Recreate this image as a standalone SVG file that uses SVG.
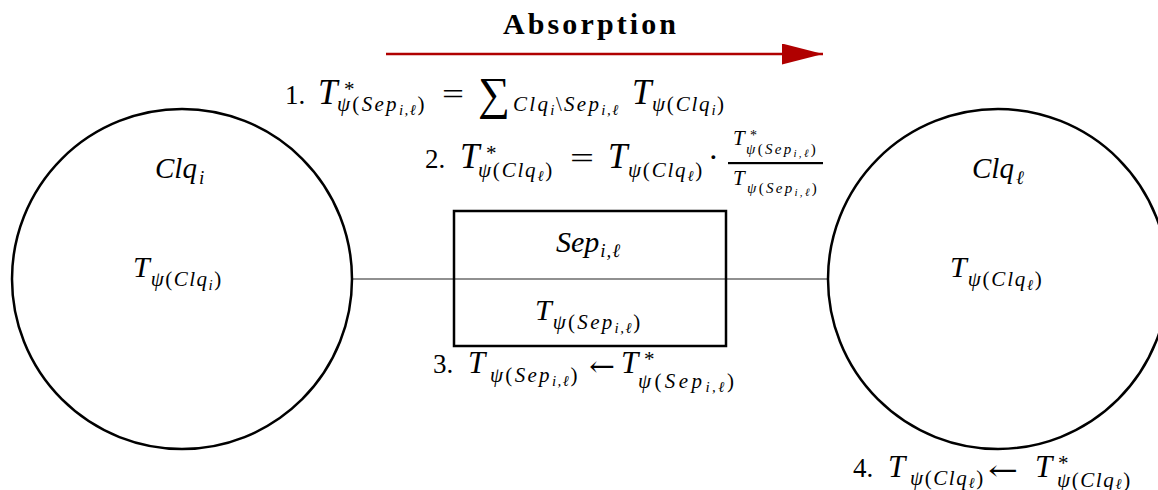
<svg xmlns="http://www.w3.org/2000/svg" width="1158" height="490" viewBox="0 0 1158 490">
<style>
text { fill: #000; }
.i { font-family: "Liberation Serif", "DejaVu Serif", serif; font-style: italic; }
.r { font-family: "Liberation Serif", "DejaVu Serif", serif; font-style: normal; }
.ar { font-family: "DejaVu Serif", serif; font-style: normal; }
.s { font-family: "Liberation Serif", "DejaVu Serif", serif; font-style: italic; font-size: 21px; letter-spacing: 2.3px; }
.s2 { font-family: "Liberation Serif", "DejaVu Serif", serif; font-style: italic; font-size: 15px; letter-spacing: 1.5px; }
.f { font-family: "Liberation Serif", "DejaVu Serif", serif; font-style: italic; font-size: 15px; letter-spacing: 2.3px; }
.node { fill: none; stroke: #000; stroke-width: 2.5; }
.conn { stroke: #222; stroke-width: 1.2; fill: none; }
</style>
<defs>
<marker id="ah" viewBox="0 0 41 21" refX="41" refY="10.5" markerWidth="41" markerHeight="21" markerUnits="userSpaceOnUse" orient="auto">
<polygon points="0,0 41,10.5 0,21" fill="#b00000"/>
</marker>
</defs>
<rect width="1158" height="490" fill="#fff"/>

<g id="connectors">
<line class="conn" x1="352" y1="279" x2="828" y2="279"/>
<line x1="386" y1="54" x2="823" y2="54" stroke="#b00000" stroke-width="2.5" marker-end="url(#ah)"/>
</g>

<g id="title">
<text class="r" x="503" y="34" font-size="30" font-weight="bold" textLength="173" lengthAdjust="spacing">Absorption</text>
</g>

<g id="clq-i">
<circle class="node" cx="182" cy="279" r="170"/>
<text class="i" x="155" y="178" font-size="29">Clq<tspan dx="2" dy="6" font-size="19">i</tspan></text>
<text class="i" x="133" y="277" font-size="30">T<tspan class="s" dx="1" dy="9" style="letter-spacing:1.5px">ψ<tspan class="r">(</tspan>Clq<tspan class="s2" dy="4">i</tspan><tspan class="r" dy="-4">)</tspan></tspan></text>
</g>

<g id="clq-l">
<circle class="node" cx="998" cy="279" r="170"/>
<text class="i" x="972" y="178" font-size="29">Clq<tspan dx="2" dy="6" font-size="19">ℓ</tspan></text>
<text class="i" x="950" y="277" font-size="30">T<tspan class="s" dx="1" dy="9" style="letter-spacing:1.8px">ψ<tspan class="r">(</tspan>Clq<tspan class="s2" dy="4">ℓ</tspan><tspan class="r" dy="-4">)</tspan></tspan></text>
</g>

<g id="sep">
<rect class="node" x="454" y="211" width="272" height="135"/>
<text class="i" x="556" y="252" font-size="30">Sep<tspan dx="1" dy="5" font-size="19" style="letter-spacing:1px">i,ℓ</tspan></text>
<text class="i" x="535" y="320" font-size="30">T<tspan class="s" dx="1" dy="9">ψ<tspan class="r">(</tspan>Sep<tspan class="s2" dy="4">i,ℓ</tspan><tspan class="r" dy="-4">)</tspan></tspan></text>
</g>

<g id="step1">
<text class="r" x="285" y="104" font-size="27">1.</text>
<text class="i" x="318" y="104" font-size="35">T</text>
<text class="r" x="344" y="96" font-size="21">*</text>
<text class="s" x="337" y="111">ψ<tspan class="r">(</tspan>Sep<tspan class="s2" dy="4">i,ℓ</tspan><tspan class="r" dy="-4">)</tspan></text>
<text class="r" x="442" y="104" font-size="30" textLength="22" lengthAdjust="spacingAndGlyphs">=</text>
<text class="r" x="478" y="109" font-size="46" textLength="32" lengthAdjust="spacingAndGlyphs">∑</text>
<text class="s" x="513" y="111">Clq<tspan class="s2" dy="4">i</tspan><tspan class="r" dy="-4">\</tspan>Sep<tspan class="s2" dy="4">i,ℓ</tspan></text>
<text class="i" x="632" y="104" font-size="35">T</text>
<text class="s" x="652" y="111" style="letter-spacing:1.8px">ψ<tspan class="r">(</tspan>Clq<tspan class="s2" dy="4">i</tspan><tspan class="r" dy="-4">)</tspan></text>
</g>

<g id="step2">
<text class="r" x="425" y="168" font-size="27">2.</text>
<text class="i" x="460" y="168" font-size="35">T</text>
<text class="r" x="486" y="160" font-size="21">*</text>
<text class="s" x="478" y="177" style="letter-spacing:1.8px">ψ<tspan class="r">(</tspan>Clq<tspan class="s2" dy="4">ℓ</tspan><tspan class="r" dy="-4">)</tspan></text>
<text class="r" x="570" y="168" font-size="30" textLength="24" lengthAdjust="spacingAndGlyphs">=</text>
<text class="i" x="608" y="168" font-size="35">T</text>
<text class="s" x="628" y="177" style="letter-spacing:1.8px">ψ<tspan class="r">(</tspan>Clq<tspan class="s2" dy="4">ℓ</tspan><tspan class="r" dy="-4">)</tspan></text>
<text class="r" x="708" y="168" font-size="32">·</text>
<rect x="728" y="162" width="95" height="2.2" fill="#000"/>
<text class="i" x="733" y="145" font-size="21">T</text>
<text class="r" x="750" y="140" font-size="14">*</text>
<text class="f" x="746" y="154">ψ<tspan class="r">(</tspan>Sep<tspan font-size="11" dy="3">i,ℓ</tspan><tspan class="r" dy="-3">)</tspan></text>
<text class="i" x="733" y="185" font-size="21">T</text>
<text class="f" x="747" y="193">ψ<tspan class="r">(</tspan>Sep<tspan font-size="11" dy="3">i,ℓ</tspan><tspan class="r" dy="-3">)</tspan></text>
</g>

<g id="step3">
<text class="r" x="433" y="373" font-size="27">3.</text>
<text class="i" x="468" y="373" font-size="31">T</text>
<text class="s" x="490" y="382">ψ<tspan class="r">(</tspan>Sep<tspan class="s2" dy="4">i,ℓ</tspan><tspan class="r" dy="-4">)</tspan></text>
<text class="ar" x="589" y="376" font-size="28" textLength="26" lengthAdjust="spacingAndGlyphs">←</text>
<text class="i" x="621" y="373" font-size="31">T</text>
<text class="r" x="644" y="366" font-size="21">*</text>
<text class="s" x="638" y="388" style="letter-spacing:3.4px">ψ<tspan class="r">(</tspan>Sep<tspan class="s2" dy="4" style="letter-spacing:2.5px">i,ℓ</tspan><tspan class="r" dy="-4">)</tspan></text>
</g>

<g id="step4">
<text class="r" x="853" y="477" font-size="27">4.</text>
<text class="i" x="888" y="477" font-size="31">T</text>
<text class="s" x="910" y="485" style="letter-spacing:1.6px">ψ<tspan class="r">(</tspan>Clq<tspan class="s2" dy="3">ℓ</tspan><tspan class="r" dy="-3">)</tspan></text>
<text class="ar" x="988" y="480" font-size="28" textLength="30" lengthAdjust="spacingAndGlyphs">←</text>
<text class="i" x="1035" y="477" font-size="31">T</text>
<text class="r" x="1058" y="470" font-size="21">*</text>
<text class="s" x="1057" y="487" style="letter-spacing:1.6px">ψ<tspan class="r">(</tspan>Clq<tspan class="s2" dy="2">ℓ</tspan><tspan class="r" dy="-2">)</tspan></text>
</g>
</svg>
